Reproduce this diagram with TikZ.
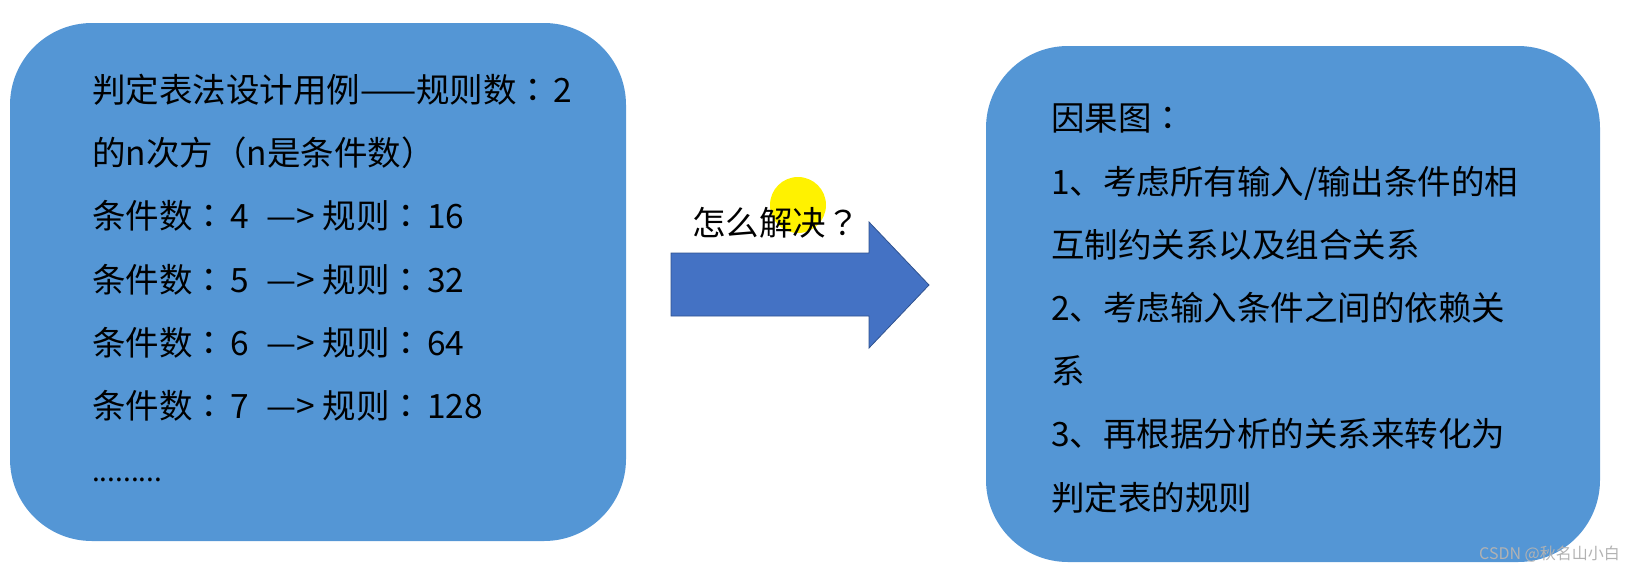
\documentclass[tikz,border=0pt]{standalone}
\usepackage{fontspec}
\setmainfont{Noto Sans CJK SC}
\newfontfamily\tcpunct{Noto Sans CJK TC}
\newcommand{\fwcolon}{{\tcpunct ：}}
\newcommand{\fwquery}{{\tcpunct ？}}
\definecolor{boxblue}{RGB}{84,150,213}
\definecolor{arrowblue}{RGB}{68,114,196}
\definecolor{arrowedge}{RGB}{47,82,143}

\begin{document}
\begin{tikzpicture}[
        x=1pt, y=1pt,
        every node/.style={font=\fontsize{33.5}{63.2}\selectfont},
        panel/.style={rectangle, fill=boxblue, rounded corners=82pt, inner sep=0pt},
        panetext/.style={anchor=north west, align=left, inner sep=0pt},
        bigarrow/.style={fill=arrowblue, draw=arrowedge, thick}
    ]
        \useasboundingbox (0,0) rectangle (1631,-574);

        % Nodes
        \node[panel, minimum width=616pt, minimum height=518pt] (rules) at (318,-282) {};
        \node[panel, minimum width=614pt, minimum height=516pt] (cause) at (1293,-304) {};
        \node[panetext] (rulestext) at (92,-74) {判定表法设计用例——规则数\fwcolon\hspace{3pt}2\\
            的n次方（n是条件数）\\
            条件数\fwcolon\hspace{4pt}4\hspace{18pt}—> 规则\fwcolon\hspace{4pt}16\\
            条件数\fwcolon\hspace{4pt}5\hspace{18pt}—> 规则\fwcolon\hspace{4pt}32\\
            条件数\fwcolon\hspace{4pt}6\hspace{18pt}—> 规则\fwcolon\hspace{4pt}64\\
            条件数\fwcolon\hspace{4pt}7\hspace{18pt}—> 规则\fwcolon\hspace{4pt}128\\
            {\fontsize{28}{28}\selectfont .........}};
        \node[panetext] (causetext) at (1051,-104) {因果图\fwcolon\\
            1、考虑所有输入/输出条件的相\\
            互制约关系以及组合关系\\
            2、考虑输入条件之间的依赖关\\
            系\\
            3、再根据分析的关系来转化为\\
            判定表的规则};

        % Arrow
        \filldraw[bigarrow] (671,-253) -- (869,-253) -- (869,-222) -- (929,-285)
            -- (869,-348) -- (869,-316) -- (671,-316) -- cycle;
        \node[circle, fill=yellow, minimum size=56pt, inner sep=0pt] (cursor) at (798,-205) {};
        \node[anchor=west, inner sep=0pt] (question) at (692,-223) {怎么解决\fwquery};
        \node[anchor=east, inner sep=0pt, text=gray!60, font=\fontsize{16}{18}\selectfont] (mark) at (1620,-554) {CSDN @秋名山小白};
    \end{tikzpicture}
\end{document}
